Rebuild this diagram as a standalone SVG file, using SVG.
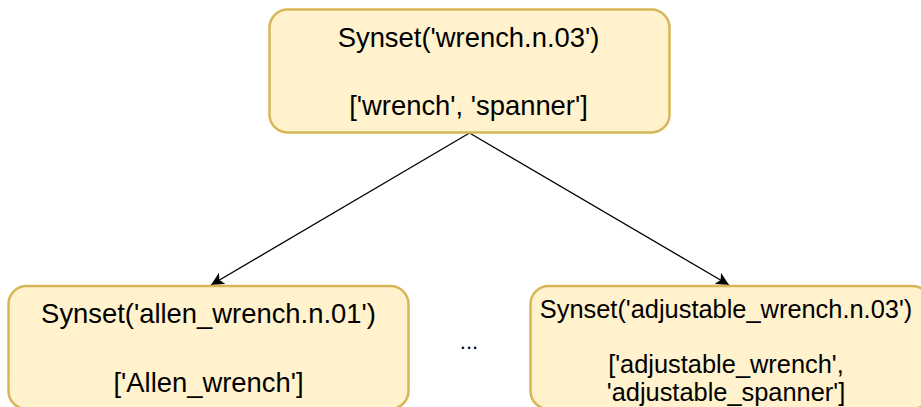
<svg xmlns="http://www.w3.org/2000/svg" width="921" height="407" viewBox="0 0 921 407">
<style>
.node rect{fill:#fff2cc;stroke:#d6b656;stroke-width:2.5}
text{font-family:"Liberation Sans",Arial,sans-serif;fill:#000;text-anchor:middle}
.t27{font-size:27.4px}
.t25{font-size:25.4px}
.edge{stroke:#000;stroke-width:1.3;fill:none}
</style>
<defs>
<marker id="arr" viewBox="0 0 10 10" refX="10" refY="5" markerWidth="13" markerHeight="13" markerUnits="userSpaceOnUse" orient="auto">
<path d="M0,0 L10,5 L0,10 L2.5,5 Z" fill="#000"/>
</marker>
</defs>
<rect width="921" height="407" fill="#fff"/>
<g id="connectors">
<line class="edge" x1="469.5" y1="133" x2="211" y2="285" marker-end="url(#arr)"/>
<line class="edge" x1="469.5" y1="133" x2="729" y2="285" marker-end="url(#arr)"/>
</g>
<g id="node-wrench" class="node">
<rect x="269.5" y="9.5" width="400" height="123" rx="18"/>
<text class="t27" x="468.5" y="47">Synset('wrench.n.03')</text>
<text class="t27" x="468.5" y="115">['wrench', 'spanner']</text>
</g>
<g id="node-allen" class="node">
<rect x="8.5" y="286" width="400" height="123" rx="18"/>
<text class="t27" x="208.5" y="323">Synset('allen_wrench.n.01')</text>
<text class="t27" x="208.5" y="392">['Allen_wrench']</text>
</g>
<g id="node-adjustable" class="node">
<rect x="530.5" y="286" width="400" height="123" rx="18"/>
<text class="t25" x="726" y="318">Synset('adjustable_wrench.n.03')</text>
<text class="t25" x="726" y="373">['adjustable_wrench',</text>
<text class="t25" x="726" y="401">'adjustable_spanner']</text>
</g>
<g id="ellipsis">
<text x="469" y="349" style="font-size:22px">...</text>
</g>
</svg>
